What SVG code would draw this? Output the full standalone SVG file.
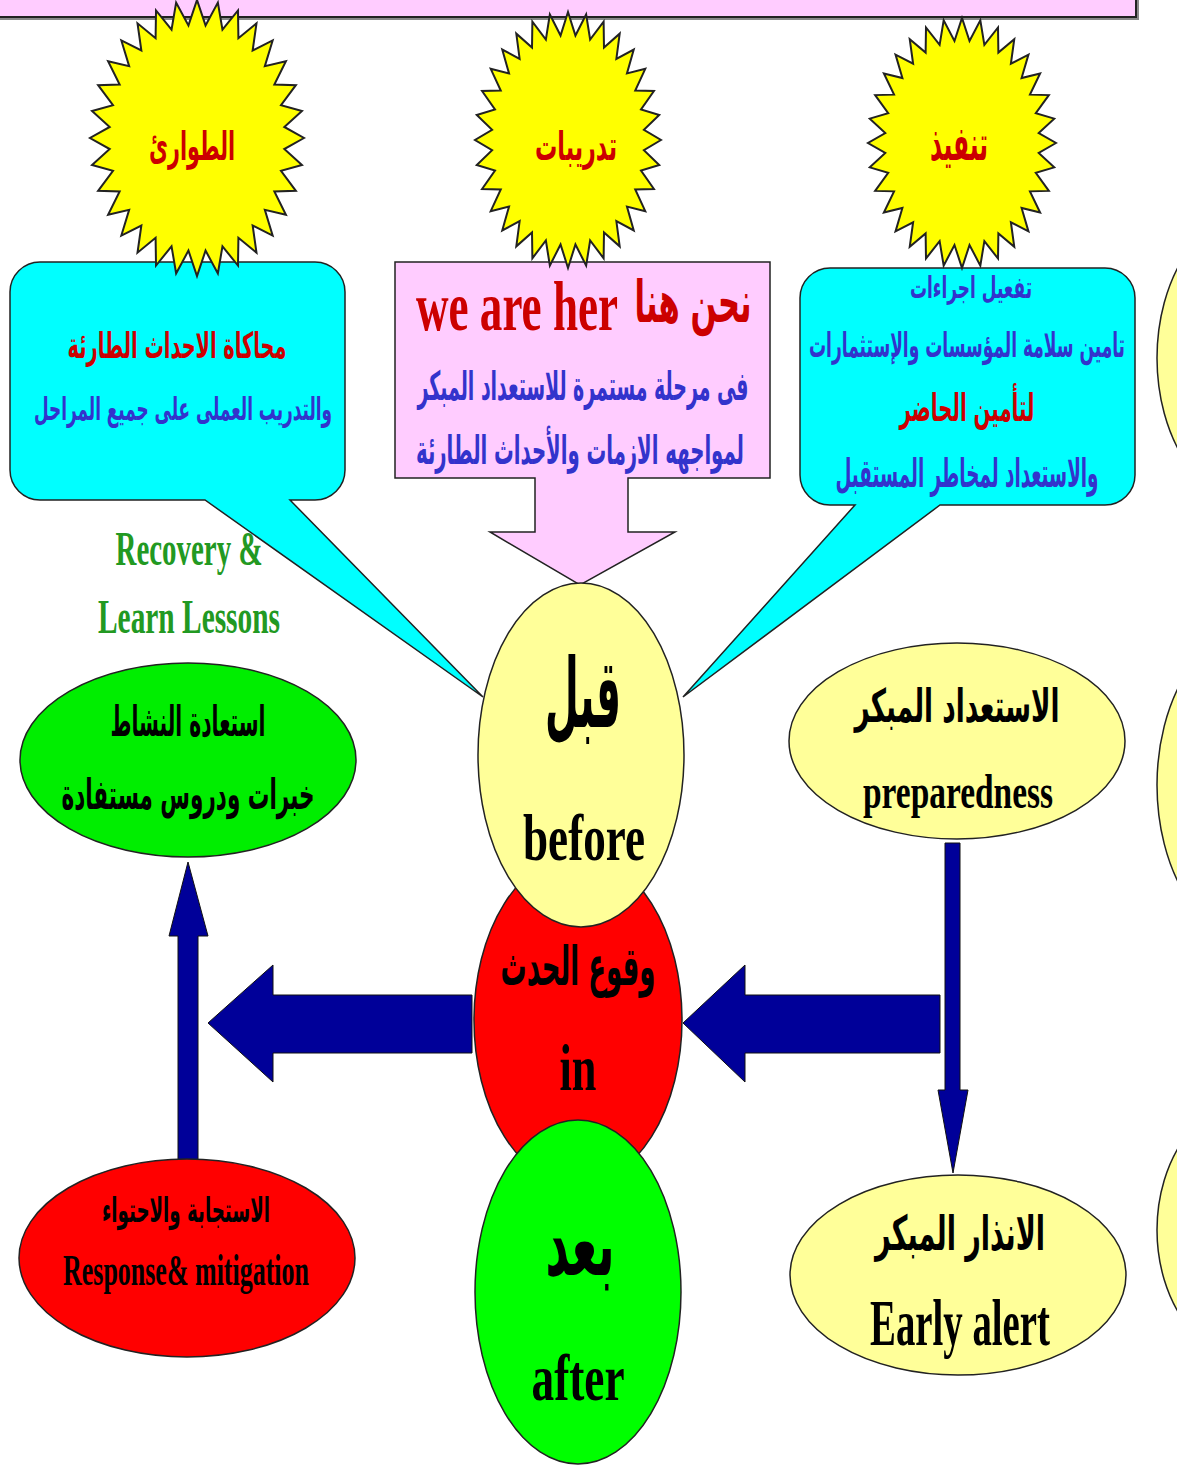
<svg xmlns="http://www.w3.org/2000/svg" xmlns:xlink="http://www.w3.org/1999/xlink" width="1177" height="1468" viewBox="0 0 1177 1468">
<defs>
<style>
.ln{stroke:#222;stroke-width:1.5}
.ar{font-family:"DejaVu Sans","Noto Sans",sans-serif;font-weight:bold;text-anchor:middle}
.en{font-family:"Liberation Serif","Times New Roman",serif;font-weight:bold;text-anchor:middle}
.red{fill:#CC0000}
.blue{fill:#3333CC}
.blk{fill:#000}
.grn{fill:#229922}
.arrow{fill:#000099;stroke:#111;stroke-width:1}
</style>
<polygon id="sun" vector-effect="non-scaling-stroke" fill="#FFFF00" stroke="#222" stroke-width="2" points="100,0 81.6,8 98.1,19.5 78.5,23.8 92.4,38.3 72.3,38.7 83.1,55.6 63.4,52 70.7,70.7 52,63.4 55.6,83.1 38.7,72.3 38.3,92.4 23.8,78.5 19.5,98.1 8,81.6 0,100 -8,81.6 -19.5,98.1 -23.8,78.5 -38.3,92.4 -38.7,72.3 -55.6,83.1 -52,63.4 -70.7,70.7 -63.4,52 -83.1,55.6 -72.3,38.7 -92.4,38.3 -78.5,23.8 -98.1,19.5 -81.6,8 -100,0 -81.6,-8 -98.1,-19.5 -78.5,-23.8 -92.4,-38.3 -72.3,-38.7 -83.1,-55.6 -63.4,-52 -70.7,-70.7 -52,-63.4 -55.6,-83.1 -38.7,-72.3 -38.3,-92.4 -23.8,-78.5 -19.5,-98.1 -8,-81.6 0,-100 8,-81.6 19.5,-98.1 23.8,-78.5 38.3,-92.4 38.7,-72.3 55.6,-83.1 52,-63.4 70.7,-70.7 63.4,-52 83.1,-55.6 72.3,-38.7 92.4,-38.3 78.5,-23.8 98.1,-19.5 81.6,-8"/>
</defs>
<rect width="1177" height="1468" fill="#fff"/>

<g id="top-band">
<rect x="-2" y="-17" width="1141" height="37" fill="#888"/>
<rect x="-5" y="-20" width="1141" height="37" fill="#FFCCFF" stroke="#222" stroke-width="2"/>
</g>

<g id="edge-shapes">
<ellipse cx="1260" cy="358" rx="103" ry="150" fill="#FFFF99" class="ln"/>
<ellipse cx="1260" cy="785" rx="103" ry="160" fill="#FFFF99" class="ln"/>
<ellipse cx="1260" cy="1230" rx="103" ry="135" fill="#FFFF99" class="ln"/>
</g>

<g id="callout-left">
<path d="M40,262 H315 A30,30 0 0 1 345,292 V470 A30,30 0 0 1 315,500 H290 L483,697 L205,500 H40 A30,30 0 0 1 10,470 V292 A30,30 0 0 1 40,262 Z" fill="#00FFFF" class="ln"/>
<text x="177" y="358" class="ar red" font-size="36" textLength="219" lengthAdjust="spacingAndGlyphs">محاكاة الاحداث الطارئة</text>
<text x="183" y="420" class="ar blue" font-size="32" textLength="298" lengthAdjust="spacingAndGlyphs">والتدريب العملى على جميع المراحل</text>
</g>

<g id="callout-middle">
<path d="M395,262 H770 V478 H628 V532 H675 L580,585 L490,532 H535 V478 H395 Z" fill="#FFCCFF" class="ln"/>
<text x="517" y="330" class="en red" font-size="70" textLength="202" lengthAdjust="spacingAndGlyphs">we are her</text>
<text x="693" y="322" class="ar red" font-size="58" textLength="117" lengthAdjust="spacingAndGlyphs">نحن هنا</text>
<text x="583" y="400" class="ar blue" font-size="40" textLength="331" lengthAdjust="spacingAndGlyphs">فى مرحلة مستمرة للاستعداد المبكر</text>
<text x="580" y="464" class="ar blue" font-size="40" textLength="328" lengthAdjust="spacingAndGlyphs">لمواجهه الازمات والأحداث الطارئة</text>
</g>

<g id="callout-right">
<path d="M830,268 H1105 A30,30 0 0 1 1135,298 V475 A30,30 0 0 1 1105,505 H940 L683,697 L855,505 H830 A30,30 0 0 1 800,475 V298 A30,30 0 0 1 830,268 Z" fill="#00FFFF" class="ln"/>
<text x="971" y="298" class="ar blue" font-size="30" textLength="122" lengthAdjust="spacingAndGlyphs">تفعيل اجراءات</text>
<text x="967" y="357" class="ar blue" font-size="34" textLength="316" lengthAdjust="spacingAndGlyphs">تامين سلامة المؤسسات والإستثمارات</text>
<text x="967" y="421" class="ar red" font-size="38" textLength="135" lengthAdjust="spacingAndGlyphs">لتأمين الحاضر</text>
<text x="967" y="487" class="ar blue" font-size="40" textLength="263" lengthAdjust="spacingAndGlyphs">والاستعداد لمخاطر المستقبل</text>
</g>

<g id="sun-emergencies">
<use xlink:href="#sun" href="#sun" transform="translate(197,138) scale(1.07,1.38)"/>
<text x="192" y="160" class="ar red" font-size="40" textLength="86" lengthAdjust="spacingAndGlyphs">الطوارئ</text>
</g>
<g id="sun-training">
<use xlink:href="#sun" href="#sun" transform="translate(568,140) scale(0.93,1.28)"/>
<text x="576" y="160" class="ar red" font-size="40" textLength="82" lengthAdjust="spacingAndGlyphs">تدريبات</text>
</g>
<g id="sun-execution">
<use xlink:href="#sun" href="#sun" transform="translate(962,143) scale(0.94,1.25)"/>
<text x="959" y="160" class="ar red" font-size="48" textLength="58" lengthAdjust="spacingAndGlyphs">تنفيذ</text>
</g>

<g id="label-recovery">
<text x="189" y="565" class="en grn" font-size="48" font-weight="normal" textLength="147" lengthAdjust="spacingAndGlyphs">Recovery &amp;</text>
<text x="189" y="633" class="en grn" font-size="48" font-weight="normal" textLength="182" lengthAdjust="spacingAndGlyphs">Learn Lessons</text>
</g>

<g id="connectors">
<path class="arrow" d="M472,995 H273 V965 L208,1023 L273,1082 V1053 H472 Z"/>
<path class="arrow" d="M940,995 H745 V965 L683,1023 L745,1082 V1053 H940 Z"/>
<path class="arrow" d="M178,1160 V936 H169 L188,862 L208,936 H198 V1160 Z"/>
<path class="arrow" d="M945,843 V1090 H938 L953,1173 L968,1090 H960 V843 Z"/>
</g>

<g id="node-in">
<ellipse cx="578" cy="1020" rx="104" ry="165" fill="#FF0000" class="ln"/>
<text x="578" y="985" class="ar blk" font-size="54" textLength="155" lengthAdjust="spacingAndGlyphs">وقوع الحدث</text>
<text x="578" y="1090" class="en blk" font-size="66" textLength="37" lengthAdjust="spacingAndGlyphs">in</text>
</g>
<g id="node-before">
<ellipse cx="581" cy="755" rx="103" ry="172" fill="#FFFF99" class="ln"/>
<text x="583" y="727" class="ar blk" font-size="96" textLength="76" lengthAdjust="spacingAndGlyphs">قبل</text>
<text x="584" y="860" class="en blk" font-size="66" textLength="122" lengthAdjust="spacingAndGlyphs">before</text>
</g>
<g id="node-after">
<ellipse cx="578" cy="1292" rx="103" ry="172" fill="#00FF00" class="ln"/>
<text x="580" y="1275" class="ar blk" font-size="88" textLength="69" lengthAdjust="spacingAndGlyphs">بعد</text>
<text x="578" y="1400" class="en blk" font-size="66" textLength="93" lengthAdjust="spacingAndGlyphs">after</text>
</g>

<g id="node-recovery">
<ellipse cx="188" cy="760" rx="168" ry="97" fill="#00EE00" class="ln"/>
<text x="188" y="736" class="ar blk" font-size="42" textLength="155" lengthAdjust="spacingAndGlyphs">استعادة النشاط</text>
<text x="188" y="809" class="ar blk" font-size="42" textLength="253" lengthAdjust="spacingAndGlyphs">خبرات ودروس مستفادة</text>
</g>

<g id="node-response">
<ellipse cx="187" cy="1258" rx="168" ry="99" fill="#FF0000" class="ln"/>
<text x="186" y="1222" class="ar blk" font-size="34" textLength="168" lengthAdjust="spacingAndGlyphs">الاستجابة والاحتواء</text>
<text x="186" y="1285" class="en blk" font-size="44" textLength="246" lengthAdjust="spacingAndGlyphs">Response&amp; mitigation</text>
</g>

<g id="node-preparedness">
<ellipse cx="957" cy="741" rx="168" ry="98" fill="#FFFF99" class="ln"/>
<text x="957" y="722" class="ar blk" font-size="46" textLength="205" lengthAdjust="spacingAndGlyphs">الاستعداد المبكر</text>
<text x="958" y="808" class="en blk" font-size="48" textLength="190" lengthAdjust="spacingAndGlyphs">preparedness</text>
</g>

<g id="node-early-alert">
<ellipse cx="958" cy="1275" rx="168" ry="100" fill="#FFFF99" class="ln"/>
<text x="960" y="1250" class="ar blk" font-size="48" textLength="170" lengthAdjust="spacingAndGlyphs">الانذار المبكر</text>
<text x="960" y="1345" class="en blk" font-size="66" textLength="180" lengthAdjust="spacingAndGlyphs">Early alert</text>
</g>
</svg>
